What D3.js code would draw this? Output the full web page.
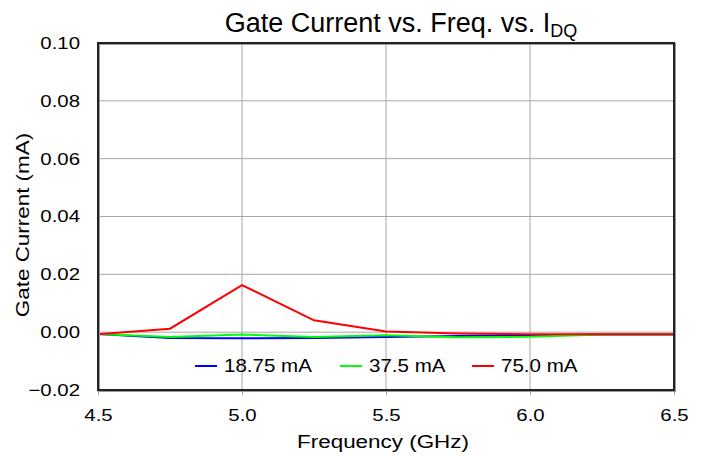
<!DOCTYPE html>
<html>
<head>
<meta charset="utf-8" />
<title>Gate Current vs. Freq. vs. IDQ</title>
<style>
  body { margin: 0; background: #fff; }
  text { font-family: "Liberation Sans", Arial, sans-serif; fill: #000; }
</style>
</head>
<body>
<script src="https://d3js.org/d3.v7.min.js"></script>
<script>
    var freq = [4.5, 4.75, 5.0, 5.25, 5.5, 5.75, 6.0, 6.25, 6.5];
    var i1875 = [-0.0006, -0.0020, -0.0021, -0.0020, -0.0017, -0.0013, -0.0011, -0.0008, -0.0008];
    var i375 = [-0.0006, -0.0017, -0.0008, -0.0017, -0.0011, -0.0018, -0.0016, -0.0008, -0.0008];
    var i750 = [-0.0007, 0.0012, 0.0163, 0.0041, 0.0002, -0.0005, -0.0007, -0.0007, -0.0007];
    var seriesNames = ["18.75 mA", "37.5 mA", "75.0 mA"];
    var seriesColors = ["#0000ff", "#00ff00", "#ff0000"];
    var xTicks = [4.5, 5.0, 5.5, 6.0, 6.5];
    var yTicks = [-0.02, 0.00, 0.02, 0.04, 0.06, 0.08, 0.10];

    var width = 702, height = 456;
    var margin = {left: 98, right: 28, top: 43, bottom: 66};
    var stretch = 1.2;   // the source text is set wider than plain Arial

    var svg = d3.select("body").append("svg")
                .attr("width", width)
                .attr("height", height);

    var x = d3.scaleLinear().domain([4.5, 6.5]).range([margin.left, width - margin.right]);
    var y = d3.scaleLinear().domain([-0.02, 0.10]).range([height - margin.bottom, margin.top]);

    // grid
    var grid = svg.append("g").attr("stroke", "#a6a6a6").attr("stroke-width", 1);
    grid.selectAll(".vg").data(xTicks.slice(1, -1)).enter().append("line")
        .attr("x1", d => x(d)).attr("x2", d => x(d))
        .attr("y1", margin.top).attr("y2", height - margin.bottom);
    grid.selectAll(".hg").data(yTicks.slice(1, -1)).enter().append("line")
        .attr("x1", margin.left).attr("x2", width - margin.right)
        .attr("y1", d => y(d)).attr("y2", d => y(d));

    // axes
    var xAxis = d3.axisBottom(x).tickValues(xTicks).tickFormat(d3.format(".1f")).tickSize(5).tickPadding(14);
    var yAxis = d3.axisLeft(y).tickValues(yTicks).tickFormat(d3.format(".2f")).tickSize(0).tickPadding(15);

    var xg = svg.append("g")
        .attr("transform", "translate(0," + (height - margin.bottom) + ")")
        .call(xAxis);
    xg.select(".domain").remove();
    xg.selectAll(".tick line").attr("stroke", "#a6a6a6");
    xg.selectAll("text").style("font-size", "17px").attr("dy", "0.71em")
      .attr("transform", "scale(" + stretch + ",1)");

    var yg = svg.append("g")
        .attr("transform", "translate(" + margin.left + ",0)")
        .call(yAxis);
    yg.select(".domain").remove();
    yg.selectAll("text").style("font-size", "17px")
      .attr("transform", "scale(" + stretch + ",1)");

    // lines
    var allSeries = [i1875, i375, i750];
    var line = d3.line().x((d, i) => x(freq[i])).y(d => y(d));
    svg.append("g").selectAll("path").data(allSeries).enter().append("path")
        .attr("fill", "none")
        .attr("stroke", (d, i) => seriesColors[i])
        .attr("stroke-width", 2)
        .attr("d", line);

    // frame
    svg.append("rect")
        .attr("x", margin.left + 1).attr("y", margin.top + 1)
        .attr("width", width - margin.left - margin.right)
        .attr("height", height - margin.top - margin.bottom)
        .attr("fill", "none").attr("stroke", "#999").attr("stroke-width", 2);
    svg.append("rect")
        .attr("x", margin.left).attr("y", margin.top)
        .attr("width", width - margin.left - margin.right)
        .attr("height", height - margin.top - margin.bottom)
        .attr("fill", "none").attr("stroke", "#222").attr("stroke-width", 2);

    // legend
    var legX = [195, 340, 472];
    var leg = svg.append("g").selectAll("g").data(seriesNames).enter().append("g")
        .attr("transform", (d, i) => "translate(" + legX[i] + ",366)");
    leg.append("line").attr("x1", 0).attr("x2", 22).attr("y1", 0).attr("y2", 0)
        .attr("stroke", (d, i) => seriesColors[i]).attr("stroke-width", 2);
    leg.append("text").attr("transform", "translate(29,0) scale(1.14,1)")
        .attr("dy", "0.36em").style("font-size", "18px").text(d => d);

    // title
    var title = svg.append("text")
        .attr("x", 401).attr("y", 32)
        .attr("text-anchor", "middle")
        .style("font-size", "27px");
    title.append("tspan").text("Gate Current vs. Freq. vs. I");
    title.append("tspan").attr("dy", 5).style("font-size", "18px").text("DQ");

    // axis titles
    svg.append("text")
        .attr("transform", "translate(383,448) scale(1.18,1)")
        .attr("text-anchor", "middle")
        .style("font-size", "19px")
        .text("Frequency (GHz)");
    svg.append("text")
        .attr("transform", "translate(29,225) rotate(-90) scale(1.18,1)")
        .attr("text-anchor", "middle")
        .style("font-size", "19px")
        .text("Gate Current (mA)");
</script>
</body>
</html>
